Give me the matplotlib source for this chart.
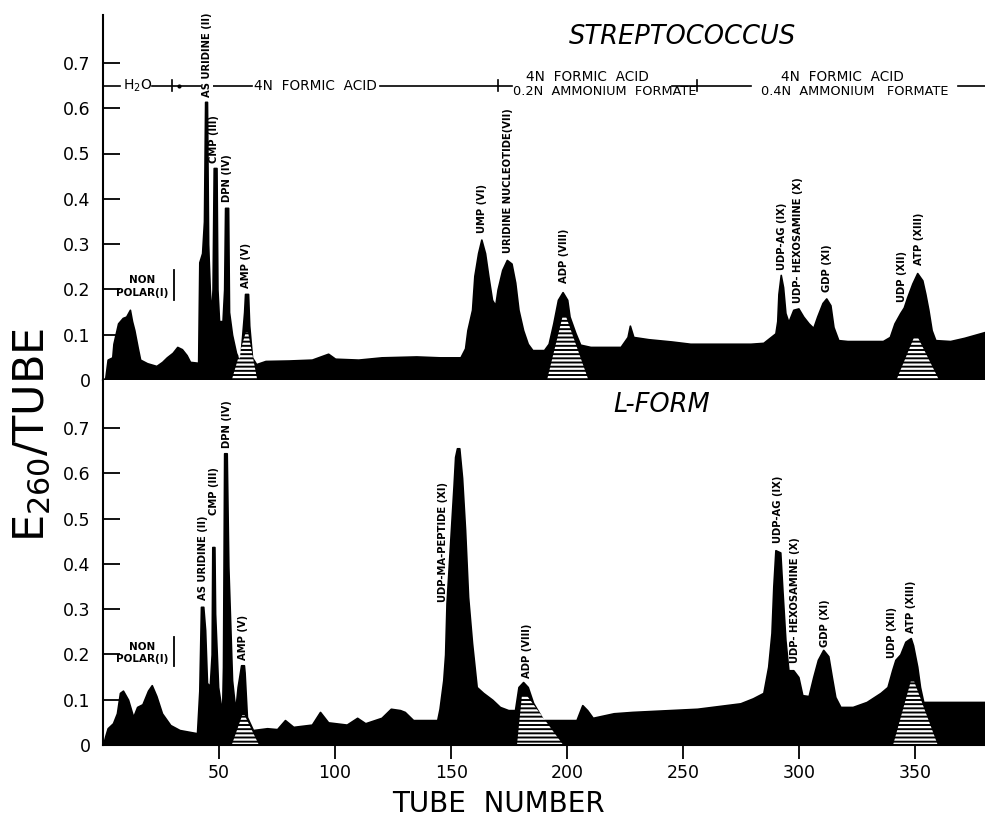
import matplotlib
matplotlib.use("Agg")
import matplotlib.pyplot as plt
from matplotlib.patches import Polygon

plt.rcParams["font.family"] = ["DejaVu Sans"]
plt.rcParams["hatch.linewidth"] = 1.6

# Streptococcus profile (tube number, E260)
top_tube = [0, 1, 2, 4, 4.5, 6.5, 8.5, 10, 11.6, 12.5, 13.5, 15, 16, 19, 23, 25.5, 27.5, 30, 32, 34,
            36, 37.5, 41, 41.5, 42.7, 43.5, 44, 44.8, 45.3, 46, 46.6, 47.2, 47.7, 48.9, 49.3, 50,
            51.5, 52.2, 52.6, 53.9, 54.3, 55.6, 57.3, 59, 60, 60.8, 61.2, 62.5, 63, 64.2, 66, 70,
            80, 90, 97, 100, 110, 120, 135, 145, 154, 156, 157, 159, 160, 161.6, 163, 164.6, 166,
            167.6, 169, 170, 172, 174, 176, 177.6, 179, 181, 183, 185, 190, 192, 194, 196, 198, 200,
            201, 203.5, 205.6, 210, 223, 226, 227, 228.5, 235, 245, 253, 265, 279, 284.5, 289.7,
            290.5, 291, 292, 293, 294, 295.3, 297.4, 299.6, 301.7, 304, 306, 307.7, 310, 311.6,
            313.4, 314.7, 316.8, 320.7, 336, 339, 341, 343.5, 345, 346.5, 348.7, 350.8, 353, 354.3,
            355.6, 357, 358.6, 365, 371, 380]
top_e260 = [0.0, 0.005, 0.045, 0.05, 0.08, 0.125, 0.137, 0.14, 0.155, 0.13, 0.11, 0.07, 0.045, 0.037,
            0.031, 0.04, 0.05, 0.06, 0.073, 0.068, 0.055, 0.04, 0.038, 0.26, 0.28, 0.35, 0.614, 0.614,
            0.30, 0.2, 0.14, 0.2, 0.468, 0.468, 0.2, 0.13, 0.13, 0.2, 0.38, 0.38, 0.15, 0.1, 0.06,
            0.04, 0.1, 0.15, 0.19, 0.19, 0.12, 0.05, 0.035, 0.042, 0.043, 0.045, 0.058, 0.047, 0.045,
            0.05, 0.052, 0.05, 0.05, 0.07, 0.11, 0.155, 0.23, 0.28, 0.31, 0.28, 0.23, 0.177, 0.165,
            0.2, 0.243, 0.265, 0.257, 0.215, 0.155, 0.11, 0.08, 0.066, 0.066, 0.08, 0.125, 0.177,
            0.194, 0.177, 0.14, 0.104, 0.078, 0.073, 0.073, 0.095, 0.12, 0.095, 0.09, 0.085, 0.08,
            0.08, 0.08, 0.082, 0.103, 0.13, 0.19, 0.232, 0.205, 0.148, 0.128, 0.155, 0.158, 0.14,
            0.125, 0.115, 0.14, 0.17, 0.18, 0.165, 0.117, 0.088, 0.086, 0.086, 0.095, 0.125, 0.148,
            0.16, 0.183, 0.213, 0.236, 0.22, 0.19, 0.155, 0.11, 0.088, 0.086, 0.093, 0.106]

# L-form profile
bot_tube = [0, 1, 2, 4.3, 6, 7.3, 8.6, 10.8, 13, 14.7, 17, 19.4, 21, 23, 25.4, 29, 33, 40.5, 41.5,
            42.2, 43.2, 44, 44.8, 46, 46.8, 47.1, 48, 48.3, 49.6, 51.3, 51.7, 52.2, 53.3, 54, 55.6,
            57, 58, 59.5, 60.7, 61, 62, 64.6, 70.7, 75, 78.4, 82, 90, 93.5, 97, 105, 109.5, 113,
            120, 124, 128, 130, 133.6, 144, 145, 146.6, 147.4, 148, 149.6, 151, 151.7, 152.5, 153.5,
            154.7, 156, 157.3, 159, 161, 163.8, 167.7, 171, 174.6, 177.5, 179, 181, 183, 185.3,
            189.7, 204, 206.5, 208.6, 211, 220, 228, 256, 274.6, 280, 284.5, 286.6, 288, 288.8,
            289.7, 291.8, 292.7, 294, 295.3, 297.4, 299.6, 301.3, 304, 306, 308, 310.3, 312.5, 314,
            315.5, 317.7, 323, 329, 335, 338, 340, 341.4, 343.5, 345.7, 348, 349, 350.8, 352,
            353.4, 380]
bot_e260 = [0.0, 0.02, 0.037, 0.048, 0.07, 0.115, 0.12, 0.1, 0.062, 0.084, 0.09, 0.12, 0.132, 0.108,
            0.07, 0.044, 0.033, 0.026, 0.12, 0.305, 0.305, 0.254, 0.137, 0.13, 0.2, 0.437, 0.437,
            0.29, 0.128, 0.07, 0.172, 0.644, 0.644, 0.394, 0.143, 0.077, 0.128, 0.176, 0.176, 0.16,
            0.062, 0.033, 0.037, 0.035, 0.055, 0.04, 0.045, 0.073, 0.05, 0.045, 0.06, 0.048, 0.06,
            0.08, 0.077, 0.073, 0.055, 0.055, 0.08, 0.143, 0.2, 0.313, 0.45, 0.57, 0.636, 0.655,
            0.655, 0.59, 0.475, 0.327, 0.225, 0.128, 0.115, 0.1, 0.084, 0.077, 0.077, 0.128, 0.139,
            0.128, 0.093, 0.055, 0.055, 0.088, 0.077, 0.06, 0.07, 0.073, 0.08, 0.092, 0.103, 0.115,
            0.173, 0.247, 0.35, 0.43, 0.425, 0.343, 0.232, 0.165, 0.165, 0.15, 0.11, 0.108, 0.15,
            0.188, 0.21, 0.196, 0.15, 0.106, 0.084, 0.084, 0.095, 0.115, 0.128, 0.165, 0.188, 0.2,
            0.228, 0.236, 0.22, 0.173, 0.128, 0.095, 0.095]

# marker zones (base left, apex left, apex right, base right, apex height)
top_marks = [(55.6, 61.5, 62.5, 66.4, 0.105), (191.4, 198, 199.5, 209, 0.14), (342, 349.5, 351, 360, 0.095)]
bot_marks = [(55.6, 60, 61, 67, 0.066), (178.4, 180.5, 182.5, 198, 0.11), (340.5, 348, 349.5, 359.5, 0.14)]

# peak labels (text, tube, E260 at label foot)
top_labels = [("AS URIDINE (II)", 44.8, 0.625), ("CMP (III)", 47.8, 0.48), ("DPN (IV)", 53.4, 0.393),
              ("AMP (V)", 61.6, 0.203), ("UMP (VI)", 163.4, 0.325), ("URIDINE NUCLEOTIDE(VII)", 174.6, 0.28),
              ("ADP (VIII)", 198.7, 0.214), ("UDP-AG (IX)", 292.6, 0.243), ("UDP- HEXOSAMINE (X)", 299.6, 0.17),
              ("GDP (XI)", 312, 0.194), ("UDP (XII)", 344.4, 0.172), ("ATP (XIII)", 351.7, 0.254)]
bot_labels = [("AS URIDINE (II)", 43, 0.32), ("CMP (III)", 47.8, 0.508), ("DPN (IV)", 53.4, 0.656),
              ("AMP (V)", 60.3, 0.188), ("UDP-MA-PEPTIDE (XI)", 146.6, 0.316), ("ADP (VIII)", 182.8, 0.148),
              ("UDP-AG (IX)", 291, 0.446), ("UDP- HEXOSAMINE (X)", 298.3, 0.181), ("GDP (XI)", 311, 0.216),
              ("UDP (XII)", 340, 0.192), ("ATP (XIII)", 348, 0.247)]

yticks = [0, 0.1, 0.2, 0.3, 0.4, 0.5, 0.6, 0.7]
ytick_labels = ["0", "0.1", "0.2", "0.3", "0.4", "0.5", "0.6", "0.7"]
xticks = [50, 100, 150, 200, 250, 300, 350]

fig = plt.figure(figsize=(9.85, 8.18), dpi=100)
ax_top = fig.add_axes([103 / 985, 1 - 380 / 818, 882 / 985, 365 / 818])
ax_bot = fig.add_axes([103 / 985, 1 - 745 / 818, 882 / 985, 365 / 818])


def draw_panel(ax, tube, e260, marks, labels, nonpolar_y):
    ax.fill_between(tube, e260, 0, color="black", lw=1.2, edgecolor="black")
    for bl, al, ar, br, h in marks:
        ax.add_patch(Polygon([(bl, 0.002), (al, h), (ar, h), (br, 0.002)], closed=True,
                             facecolor="none", edgecolor="white", lw=0, hatch="----"))
    for txt, x, y in labels:
        ax.text(x, y, txt, rotation=90, ha="center", va="bottom", fontsize=7.2,
                fontweight="bold")
    ax.text(16.8, nonpolar_y + 0.013, "NON", ha="center", va="center", fontsize=7.5, fontweight="bold")
    ax.text(16.8, nonpolar_y - 0.014, "POLAR(I)", ha="center", va="center", fontsize=7.5,
            fontweight="bold")
    ax.plot([30.4, 30.4], [nonpolar_y - 0.03, nonpolar_y + 0.035], color="black", lw=1.3)
    ax.set_xlim(0, 380)
    ax.set_ylim(0, 365 / 453)
    ax.set_yticks(yticks)
    ax.set_yticklabels(ytick_labels, fontsize=12.5)
    ax.tick_params(axis="y", direction="in", length=12, width=1.3, pad=9)
    for s in ["top", "right"]:
        ax.spines[s].set_visible(False)
    ax.spines["left"].set_linewidth(1.5)
    ax.spines["bottom"].set_linewidth(1.5)


draw_panel(ax_top, top_tube, top_e260, top_marks, top_labels, 0.207)
draw_panel(ax_bot, bot_tube, bot_e260, bot_marks, bot_labels, 0.204)

# the AS URIDINE label on the top panel interrupts the solvent line
ax_top.texts[0].set_bbox(dict(facecolor="white", edgecolor="none", pad=0.6))

ax_top.set_xticks([])
ax_bot.set_xticks(xticks)
ax_bot.set_xticklabels([str(t) for t in xticks], fontsize=12.5)
ax_bot.tick_params(axis="x", direction="out", length=10, width=1.3, pad=4)

# solvent programme bar
bar_y = 0.65
for x0, x1 in [(0, 7.5), (21, 64), (119.4, 176), (245, 279), (368.5, 380)]:
    ax_top.plot([x0, x1], [bar_y, bar_y], color="black", lw=1.2, zorder=1)
for xt in [29.7, 170, 256]:
    ax_top.plot([xt, xt], [bar_y - 0.012, bar_y + 0.012], color="black", lw=1.2)
ax_top.plot([32.7], [bar_y], "o", color="black", ms=2)
ax_top.text(14.9, bar_y, "H$_2$O", ha="center", va="center", fontsize=10)
ax_top.text(91.4, bar_y, "4N  FORMIC  ACID", ha="center", va="center", fontsize=9.8)
ax_top.text(208.6, bar_y + 0.019, "4N  FORMIC  ACID", ha="center", va="center", fontsize=9.8)
ax_top.text(216, bar_y - 0.013, "0.2N  AMMONIUM  FORMATE", ha="center", va="center", fontsize=9.3)
ax_top.text(318.5, bar_y + 0.019, "4N  FORMIC  ACID", ha="center", va="center", fontsize=9.8)
ax_top.text(323.7, bar_y - 0.013, "0.4N  AMMONIUM   FORMATE", ha="center", va="center", fontsize=9.3)

ax_top.text(249.6, 0.757, "STREPTOCOCCUS", ha="center", va="center", fontsize=18.5, style="italic")
ax_bot.text(240.5, 0.75, "L-FORM", ha="center", va="center", fontsize=18.5, style="italic")

fig.text(0.033, 0.468, "E$_{260}$/TUBE", rotation=90, ha="center", va="center", fontsize=31)
fig.text(0.506, 0.017, "TUBE  NUMBER", ha="center", va="center", fontsize=20)

fig.savefig("out.png", dpi=100)
